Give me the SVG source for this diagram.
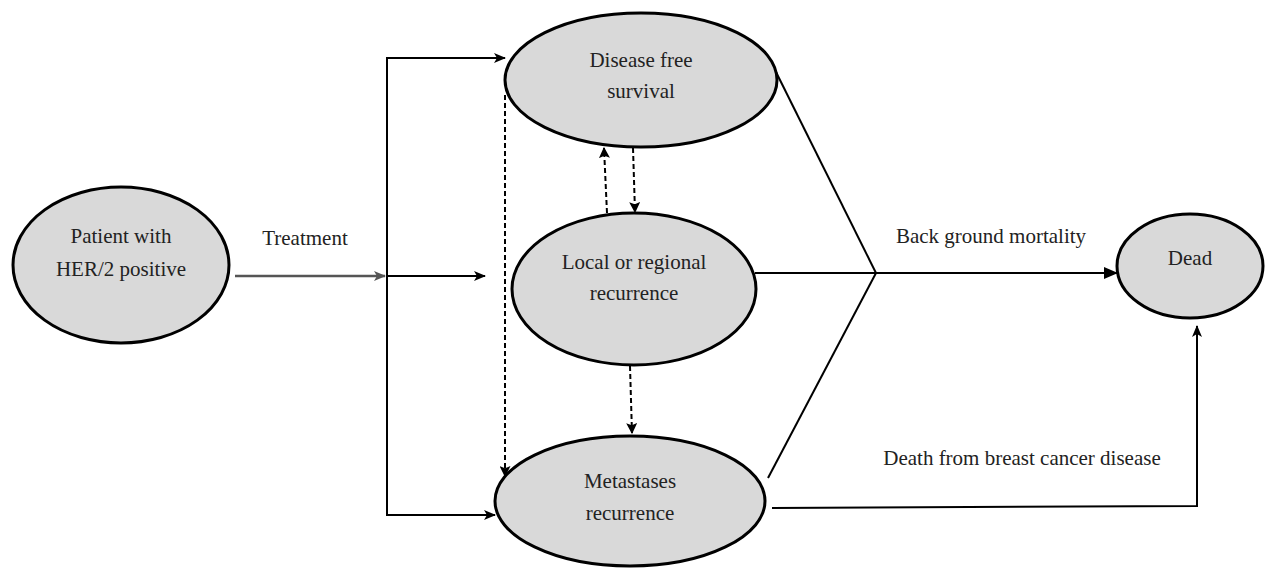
<svg xmlns="http://www.w3.org/2000/svg" width="1272" height="568" viewBox="0 0 1272 568">
<defs>
<marker id="ah" viewBox="0 0 12 10" refX="11" refY="5" markerWidth="12" markerHeight="10" markerUnits="userSpaceOnUse" orient="auto">
<path d="M0,0 L12,5 L0,10 L3,5 Z" fill="#000"/>
</marker>
<marker id="ahg" viewBox="0 0 12 10" refX="11" refY="5" markerWidth="12" markerHeight="10" markerUnits="userSpaceOnUse" orient="auto">
<path d="M0,0 L12,5 L0,10 L3,5 Z" fill="#555"/>
</marker>
<marker id="ahd" viewBox="0 0 10 10" refX="9" refY="5" markerWidth="11" markerHeight="11" markerUnits="userSpaceOnUse" orient="auto">
<path d="M0,0 L10,5 L0,10 L2,5 Z" fill="#000"/>
</marker>
<marker id="aht" viewBox="0 0 14 12" refX="13" refY="6" markerWidth="14" markerHeight="12" markerUnits="userSpaceOnUse" orient="auto">
<path d="M0,0 L14,6 L0,12 Z" fill="#000"/>
</marker>
</defs>
<style>
.node ellipse { fill: #d9d9d9; stroke: #000; stroke-width: 3; }
text { font-family: 'Liberation Serif', 'DejaVu Serif', serif; font-size: 21px; fill: #222; text-anchor: middle; }
.c { fill: none; stroke: #000; stroke-width: 2; }
.d { fill: none; stroke: #000; stroke-width: 2; stroke-dasharray: 5 3; }
</style>
<rect width="1272" height="568" fill="#fff"/>
<g id="connectors">
<line x1="235" y1="276" x2="385" y2="276" stroke="#555" stroke-width="2.5" marker-end="url(#ahg)"/>
<line class="c" x1="387" y1="57" x2="387" y2="516"/>
<line class="c" x1="386" y1="58" x2="505" y2="58" marker-end="url(#ah)"/>
<line class="c" x1="387" y1="276" x2="485" y2="276" marker-end="url(#ah)"/>
<line class="c" x1="386" y1="515" x2="495" y2="515" marker-end="url(#ah)"/>
<line class="d" x1="505" y1="95" x2="505" y2="476" marker-end="url(#ahd)"/>
<line class="d" x1="607" y1="213" x2="604" y2="148" marker-end="url(#ahd)"/>
<line class="d" x1="633" y1="148" x2="635" y2="212" marker-end="url(#ahd)"/>
<polyline class="d" points="630,366 631,400 632,433" marker-end="url(#ahd)"/>
<line class="c" x1="776" y1="72" x2="876" y2="273"/>
<line class="c" x1="768" y1="478" x2="876" y2="273"/>
<line class="c" x1="755" y1="273" x2="1117" y2="273" marker-end="url(#aht)"/>
<polyline class="c" points="772,508 1197,506 1197,326" marker-end="url(#ah)"/>
</g>
<g id="labels">
<text x="305" y="245">Treatment</text>
<text x="991" y="243">Back ground mortality</text>
<text x="1022" y="465">Death from breast cancer disease</text>
</g>
<g id="patient" class="node">
<ellipse cx="121" cy="265" rx="108" ry="78"/>
<text x="121" y="243">Patient with</text>
<text x="121" y="276">HER/2 positive</text>
</g>
<g id="disease-free" class="node">
<ellipse cx="641" cy="80" rx="136" ry="67"/>
<text x="641" y="67">Disease free</text>
<text x="641" y="98">survival</text>
</g>
<g id="local" class="node">
<ellipse cx="634" cy="289" rx="122" ry="76"/>
<text x="634" y="269">Local or regional</text>
<text x="634" y="300">recurrence</text>
</g>
<g id="metastases" class="node">
<ellipse cx="630" cy="501" rx="135" ry="65"/>
<text x="630" y="488">Metastases</text>
<text x="630" y="520">recurrence</text>
</g>
<g id="dead" class="node">
<ellipse cx="1190" cy="266" rx="73" ry="52"/>
<text x="1190" y="265">Dead</text>
</g>
</svg>
